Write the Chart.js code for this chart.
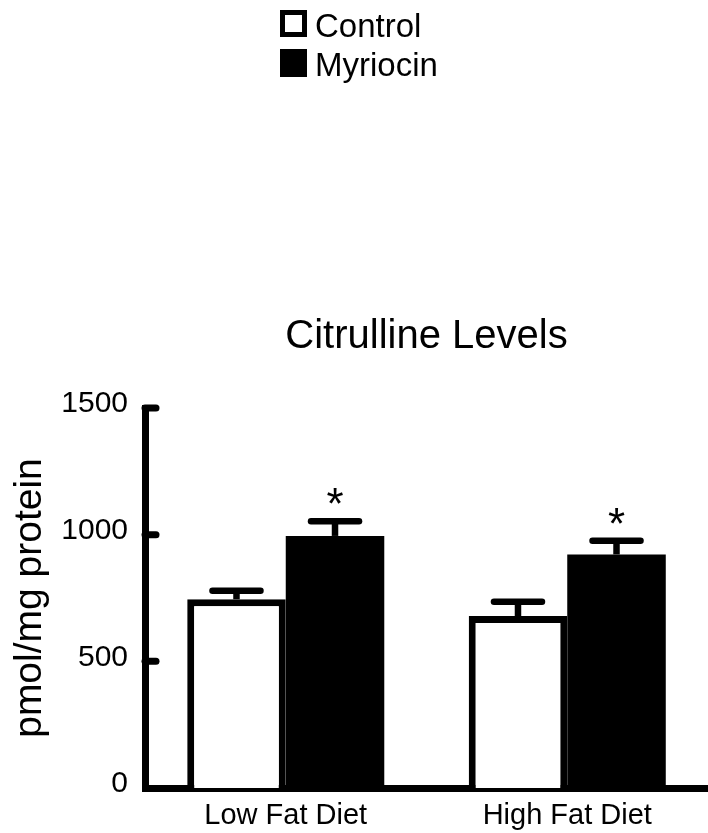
<!DOCTYPE html>
<html>
<head>
<meta charset="utf-8">
<script src="https://cdn.jsdelivr.net/npm/chart.js@4.4.1/dist/chart.umd.min.js"></script>
<style>
  html, body { margin: 0; padding: 0; background: #fff; }
  #wrap { width: 708px; height: 833px; }
</style>
</head>
<body>
<div id="wrap"><canvas id="chart"></canvas></div>
<script>
// ---- data ----
const categories = ['Low Fat Diet', 'High Fat Diet'];
const controlMeans = [745, 679];
const controlSem = [34, 56];
const myriocinMeans = [995, 922];
const myriocinSem = [58, 54];
const myriocinSig = ['*', '*'];
const yTicks = [0, 500, 1000, 1500];

const FONT = '"Liberation Sans", Arial, Helvetica, sans-serif';

// error bars, significance stars, inward y ticks, title and legend
const decor = {
  id: 'decor',
  afterDatasetsDraw(chart) {
    const ctx = chart.ctx;
    const y = chart.scales.y;
    ctx.save();
    ctx.strokeStyle = '#000';
    ctx.fillStyle = '#000';
    chart.data.datasets.forEach((ds, i) => {
      chart.getDatasetMeta(i).data.forEach((bar, j) => {
        const top = y.getPixelForValue(ds.data[j] + ds.sem[j]);
        ctx.lineWidth = 6.5;
        ctx.lineCap = 'butt';
        ctx.beginPath();
        ctx.moveTo(bar.x, bar.y);
        ctx.lineTo(bar.x, top);
        ctx.stroke();
        ctx.lineCap = 'round';
        ctx.beginPath();
        ctx.moveTo(bar.x - 24, top);
        ctx.lineTo(bar.x + 24, top);
        ctx.stroke();
        if (ds.sig && ds.sig[j]) {
          ctx.font = '44px ' + FONT;
          ctx.textAlign = 'center';
          ctx.textBaseline = 'alphabetic';
          ctx.fillText(ds.sig[j], bar.x, top - 2);
        }
      });
    });
    ctx.restore();
  },
  afterDraw(chart) {
    const ctx = chart.ctx;
    const area = chart.chartArea;
    const y = chart.scales.y;
    ctx.save();
    ctx.strokeStyle = '#000';
    ctx.fillStyle = '#000';
    // ticks pointing into the plot
    ctx.lineWidth = 7;
    ctx.lineCap = 'round';
    yTicks.forEach(v => {
      if (v === 0) return;
      const py = y.getPixelForValue(v);
      ctx.beginPath();
      ctx.moveTo(area.left, py);
      ctx.lineTo(area.left + 11, py);
      ctx.stroke();
    });
    // title
    ctx.font = '40px ' + FONT;
    ctx.textAlign = 'center';
    ctx.textBaseline = 'alphabetic';
    ctx.fillText('Citrulline Levels', (area.left + area.right) / 2, 348);
    // legend
    ctx.font = '33px ' + FONT;
    ctx.textAlign = 'left';
    chart.data.datasets.forEach((ds, i) => {
      const by = 10 + i * 39;
      if (ds.borderWidth) {
        ctx.fillStyle = '#fff';
        ctx.fillRect(280, by, 27, 27);
        ctx.lineWidth = 5;
        ctx.lineCap = 'butt';
        ctx.strokeRect(282.5, by + 2.5, 22, 22);
      } else {
        ctx.fillStyle = '#000';
        ctx.fillRect(280, by, 27, 28);
      }
      ctx.fillStyle = '#000';
      ctx.fillText(ds.label, 315, by + 27);
    });
    ctx.restore();
  }
};

new Chart(document.getElementById('chart'), {
  type: 'bar',
  data: {
    labels: categories,
    datasets: [
      {
        label: 'Control',
        data: controlMeans,
        sem: controlSem,
        backgroundColor: '#fff',
        borderColor: '#000',
        borderWidth: 7,
        borderSkipped: 'start'
      },
      {
        label: 'Myriocin',
        data: myriocinMeans,
        sem: myriocinSem,
        sig: myriocinSig,
        backgroundColor: '#000',
        borderWidth: 0
      }
    ]
  },
  options: {
    responsive: true,
    maintainAspectRatio: false,
    animation: false,
    categoryPercentage: 0.7,
    barPercentage: 1.0,
    layout: { padding: { top: 408, left: 0, right: 0, bottom: 0 } },
    plugins: {
      legend: { display: false },
      title: { display: false },
      tooltip: { enabled: false }
    },
    scales: {
      x: {
        z: 1,
        grid: { display: false },
        border: { display: true, color: '#000', width: 7 },
        ticks: { color: '#000', font: { family: FONT, size: 29 }, padding: 3 },
        afterFit(scale) { scale.height = 45; }
      },
      y: {
        min: 0,
        max: 1500,
        grid: { display: false },
        border: { display: true, color: '#000', width: 7 },
        ticks: {
          stepSize: 500,
          color: '#000',
          padding: 9,
          labelOffset: -4,
          font: { family: FONT, size: 30 },
          callback: v => String(v)
        },
        title: {
          display: true,
          text: 'pmol/mg protein',
          color: '#000',
          font: { family: FONT, size: 39 },
          padding: { top: 7, bottom: 0 }
        },
        afterFit(scale) { scale.width = 145; }
      }
    }
  },
  plugins: [decor]
});
</script>
</body>
</html>
